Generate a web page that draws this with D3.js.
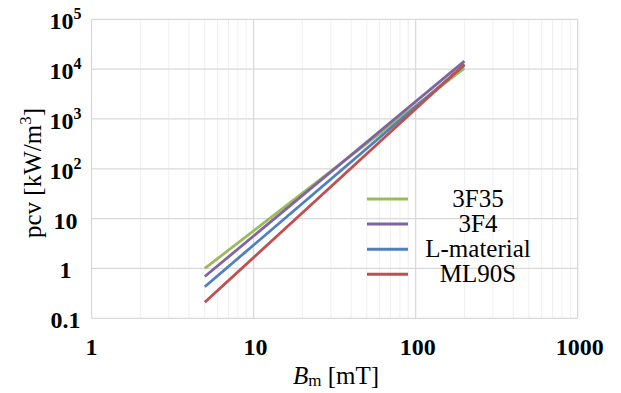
<!DOCTYPE html>
<html lang="en">
<head>
  <meta charset="UTF-8">
  <title>pcv vs Bm</title>
  <script src="https://d3js.org/d3.v7.min.js"></script>
  <style>
    body, html { margin: 0; padding: 0; background: #fff; }
  </style>
</head>
<body>
  <svg id="svg" width="621" height="393" font-family="Liberation Serif"></svg>
  <script>
    // data
    const bm = [5, 200];
    const seriesNames = ["3F35", "3F4", "L-material", "ML90S"];
    const pcv3F35 = [1.0, 10500];
    const pcv3F4 = [0.69, 14500];
    const pcvL = [0.43, 12000];
    const pcvML90S = [0.21, 12500];
    const seriesColors = ["#9bbb59", "#8064a2", "#4f81bd", "#c0504d"];
    const xTicks = [1, 10, 100, 1000];
    const yTicks = [0.1, 1, 10, 100, 1000, 10000, 100000];

    const series = [pcv3F35, pcv3F4, pcvL, pcvML90S].map((vals, i) => ({
      name: seriesNames[i],
      color: seriesColors[i],
      points: vals.map((v, j) => ({ b: bm[j], p: v }))
    }));

    const svg = d3.select("svg");
    const FONT = "Liberation Serif";
    const plotLeft = 91.5, plotRight = 577.7, plotTop = 19.3, plotBottom = 318.3;

    const x = d3.scaleLog().domain([1, 1000]).range([plotLeft, plotRight]);
    const y = d3.scaleLog().domain([0.1, 100000]).range([plotBottom, plotTop]);

    // minor vertical grid
    const minorX = [];
    for (let d = 1; d < 1000; d *= 10) {
      for (let k = 2; k <= 9; k++) minorX.push(d * k);
    }
    svg.append("g")
      .selectAll("line")
      .data(minorX)
      .enter()
      .append("line")
      .attr("x1", d => x(d)).attr("x2", d => x(d))
      .attr("y1", plotTop).attr("y2", plotBottom)
      .attr("stroke", "#efefef")
      .attr("stroke-width", 1)

    // major grid
    const grid = svg.append("g")
    grid.selectAll("line.gx")
      .data(xTicks)
      .enter()
      .append("line")
      .attr("x1", d => x(d)).attr("x2", d => x(d))
      .attr("y1", plotTop).attr("y2", plotBottom)
      .attr("stroke", "#d9d9d9")
      .attr("stroke-width", 1.3)
    grid.selectAll("line.gy")
      .data(yTicks)
      .enter()
      .append("line")
      .attr("y1", d => y(d)).attr("y2", d => y(d))
      .attr("x1", plotLeft).attr("x2", plotRight)
      .attr("stroke", "#d9d9d9")
      .attr("stroke-width", 1.3)

    // lines
    const lineGen = d3.line().x(d => x(d.b)).y(d => y(d.p));
    svg.append("g")
      .selectAll("path")
      .data(series)
      .enter()
      .append("path")
      .attr("d", d => lineGen(d.points))
      .attr("fill", "none")
      .attr("stroke", d => d.color)
      .attr("stroke-width", 2.8)

    // x tick labels
    svg.append("g")
      .selectAll("text")
      .data(xTicks)
      .enter()
      .append("text")
      .attr("font-family", FONT)
      .attr("x", d => x(d) + (d > 1 ? 2 : 0))
      .attr("y", 355)
      .attr("text-anchor", "middle")
      .attr("font-size", "24px")
      .attr("font-weight", "bold")
      .text(d => d)

    // y tick labels (centred in the margin, as in the original)
    const yLab = svg.append("g")
      .selectAll("text")
      .data(yTicks)
      .enter()
      .append("text")
      .attr("font-family", FONT)
      .attr("x", 65.5)
      .attr("y", d => y(d) + 10)
      .attr("text-anchor", "middle")
      .attr("font-size", "24px")
      .attr("font-weight", "bold")
    yLab.each(function (d) {
      const t = d3.select(this);
      if (d >= 100) {
        t.append("tspan").text("10");
        t.append("tspan").attr("dy", "-10").attr("font-size", "16px").text(Math.round(Math.log10(d)));
      } else {
        t.text(d);
      }
    })

    // axis titles
    const xt = svg.append("text")
      .attr("font-family", FONT)
      .attr("x", 336)
      .attr("y", 384)
      .attr("text-anchor", "middle")
      .attr("font-size", "25px")
    xt.append("tspan").attr("font-style", "italic").text("B")
    xt.append("tspan").attr("font-size", "17px").attr("dy", 2).text("m")
    xt.append("tspan").attr("dy", -2).text(" [mT]")

    const yt = svg.append("text")
      .attr("font-family", FONT)
      .attr("transform", "translate(41,173) rotate(-90)")
      .attr("text-anchor", "middle")
      .attr("font-size", "25px")
    yt.append("tspan").text("pcv [kW/m")
    yt.append("tspan").attr("dy", -10).attr("font-size", "17px").text("3")
    yt.append("tspan").attr("dy", 10).text("]")

    // legend
    const legend = svg.append("g")
      .selectAll("g")
      .data(series)
      .enter()
      .append("g")
      .attr("transform", (d, i) => `translate(0,${199 + i * 25.1})`)
    legend.append("line")
      .attr("x1", 367).attr("x2", 408)
      .attr("stroke", d => d.color)
      .attr("stroke-width", 3)
    legend.append("text")
      .attr("font-family", FONT)
      .attr("x", 478)
      .attr("y", 8)
      .attr("text-anchor", "middle")
      .attr("font-size", "25px")
      .text(d => d.name)
  </script>
</body>
</html>
